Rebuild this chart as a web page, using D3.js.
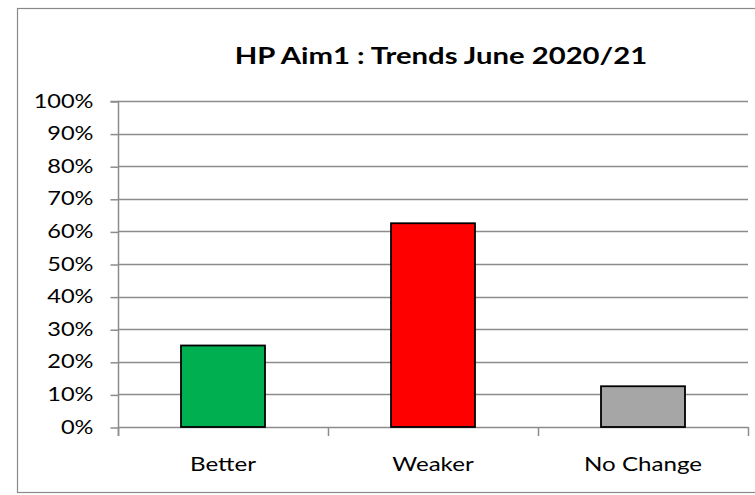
<!DOCTYPE html>
<html>
<head>
<meta charset="utf-8">
<script src="https://cdn.jsdelivr.net/npm/d3@7"></script>
<style>
  html, body { margin: 0; padding: 0; background: #fff; }
  svg { display: block; }
  text { font-family: Lato, "Open Sans", sans-serif; fill: #000; }
</style>
</head>
<body>
<svg id="chart" width="755" height="495"></svg>
<script>
const categories = ["Better", "Weaker", "No Change"];
const values = [0.25, 0.625, 0.125];
const barColors = ["#00b050", "#ff0000", "#a6a6a6"];
const yTicks = [0, 0.1, 0.2, 0.3, 0.4, 0.5, 0.6, 0.7, 0.8, 0.9, 1.0];
const title = "HP Aim1 : Trends June 2020/21";

const svg = d3.select("#chart");

// widen glyphs horizontally to a wider face
function widen(sel, factor) {
  sel.each(function () {
    const len = this.getComputedTextLength();
    d3.select(this).attr("textLength", len * factor).attr("lengthAdjust", "spacingAndGlyphs");
  });
}

// chart frame
svg.append("rect")
  .attr("x", 17.5).attr("y", 8.5)
  .attr("width", 745).attr("height", 484)
  .attr("fill", "#fff").attr("stroke", "#898989").attr("stroke-width", 1.2);

const plot = { left: 118, right: 748, top: 101, bottom: 427 };

const x = d3.scaleBand()
  .domain(categories)
  .range([plot.left, plot.right])
  .paddingInner(0.6)
  .paddingOuter(0.3);

const y = d3.scaleLinear().domain([0, 1]).range([plot.bottom, plot.top]);

// horizontal gridlines
svg.append("g")
  .selectAll("line")
  .data(yTicks)
  .join("line")
  .attr("x1", plot.left).attr("x2", plot.right)
  .attr("y1", d => Math.round(y(d)) + 0.5).attr("y2", d => Math.round(y(d)) + 0.5)
  .attr("stroke", "#8c8c8c").attr("stroke-width", 1.5);

// y axis
const yAxis = svg.append("g")
  .attr("transform", `translate(${plot.left + 0.5},0)`)
  .call(d3.axisLeft(y).tickValues(yTicks).tickFormat(d3.format(".0%")).tickSize(8).tickPadding(17));
yAxis.select(".domain").attr("stroke", "#8c8c8c").attr("stroke-width", 1.5)
  .attr("d", `M-8,${Math.round(y(1)) + 0.5}H0V${plot.bottom + 9}`);
yAxis.selectAll(".tick line").attr("stroke", "#8c8c8c").attr("stroke-width", 1.5)
  .attr("transform", "translate(0,0.5)");
yAxis.selectAll(".tick text")
  .style("font-family", "Lato, 'Open Sans', sans-serif")
  .style("font-size", "19px").attr("fill", "#000")
  .call(widen, 1.24);

// x axis: boundary ticks between categories
const step = (plot.right - plot.left) / categories.length;
const xAxisG = svg.append("g");
xAxisG.selectAll("line")
  .data(d3.range(categories.length + 1))
  .join("line")
  .attr("x1", i => Math.round(plot.left + i * step) + 0.5)
  .attr("x2", i => Math.round(plot.left + i * step) + 0.5)
  .attr("y1", plot.bottom).attr("y2", plot.bottom + 9)
  .attr("stroke", "#8c8c8c").attr("stroke-width", 1.5);

xAxisG.selectAll("text")
  .data(categories)
  .join("text")
  .attr("x", d => x(d) + x.bandwidth() / 2)
  .attr("y", 471)
  .attr("text-anchor", "middle")
  .style("font-size", "19px")
  .text(d => d)
  .call(widen, 1.27);

// bars
svg.append("g")
  .selectAll("rect")
  .data(categories)
  .join("rect")
  .attr("x", d => x(d))
  .attr("y", (d, i) => y(values[i]))
  .attr("width", x.bandwidth())
  .attr("height", (d, i) => y(0) - y(values[i]))
  .attr("fill", (d, i) => barColors[i])
  .attr("stroke", "#000").attr("stroke-width", 1.8);

// title
svg.append("text")
  .attr("x", 441).attr("y", 64)
  .attr("text-anchor", "middle")
  .style("font-size", "22px").style("font-weight", "bold")
  .text(title)
  .call(widen, 1.33);
</script>
</body>
</html>
